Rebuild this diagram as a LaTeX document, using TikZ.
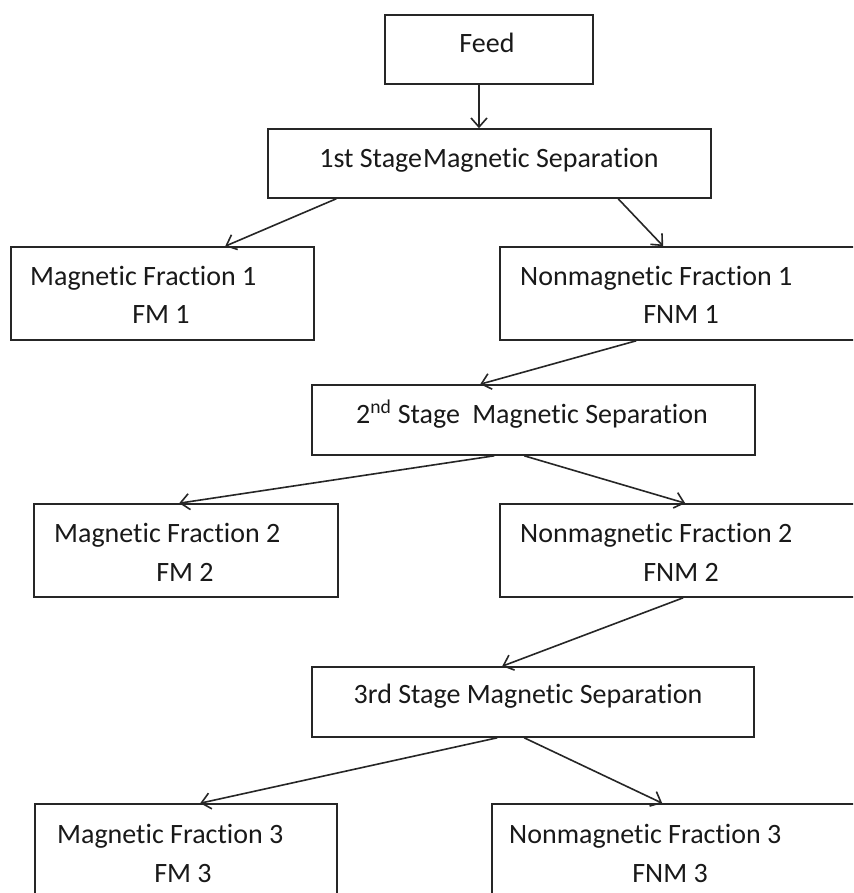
\documentclass[tikz,border=0pt]{standalone}
\usepackage{fontspec}
\setmainfont{Carlito}[Ligatures={NoCommon,NoRare,NoContextual}]
\usetikzlibrary{arrows.meta}
\begin{document}
\begin{tikzpicture}[x=1pt,y=-1pt,
  box/.style={draw=black!85, line width=1.6pt, rectangle, inner sep=0pt},
  txt/.style={inner sep=0pt, font=\fontsize{28}{30}\selectfont, text=black!90},
  arr/.style={draw=black!85, line width=1.6pt, -{Straight Barb[length=9pt,width=16pt,line width=1.6pt]}}]
\useasboundingbox (0,0) rectangle (853,893);
\clip (0,0) rectangle (853,893);
\fill[white] (0,0) rectangle (853,893);
% boxes
\node[box, minimum width=208pt, minimum height=69pt] (feed) at (489,49.5) {};
\node[box, minimum width=443pt, minimum height=69pt] (s1) at (489.5,163.5) {};
\node[box, minimum width=303pt, minimum height=93pt] (m1) at (162.5,293.5) {};
\node[box, minimum width=370pt, minimum height=93pt] (n1) at (685,293.5) {};
\node[box, minimum width=443pt, minimum height=70pt] (s2) at (533.5,420) {};
\node[box, minimum width=304pt, minimum height=93pt] (m2) at (186,550.5) {};
\node[box, minimum width=370pt, minimum height=93pt] (n2) at (685,550.5) {};
\node[box, minimum width=442pt, minimum height=70pt] (s3) at (533,702) {};
\node[box, minimum width=302pt, minimum height=110pt] (m3) at (186,859) {};
\node[box, minimum width=378pt, minimum height=110pt] (n3) at (681,859) {};
% texts
\node[txt, anchor=base] (tfeed) at (487,53) {Feed};
\node[txt, anchor=base] (ts1) at (489,168) {1st Stage\hspace{1pt}Magnetic Separation};
\node[txt, anchor=base west] (tm1a) at (30,285) {Magnetic Fraction 1};
\node[txt, anchor=base] (tm1b) at (161,323) {FM 1};
\node[txt, anchor=base west] (tn1a) at (520,285) {Nonmagnetic Fraction 1};
\node[txt, anchor=base] (tn1b) at (681,323) {FNM 1};
\node[txt, anchor=base] (ts2) at (532,423) {2\textsuperscript{nd} Stage\hspace{6pt} Magnetic Separation};
\node[txt, anchor=base west] (tm2a) at (54,542) {Magnetic Fraction 2};
\node[txt, anchor=base] (tm2b) at (185,581) {FM 2};
\node[txt, anchor=base west] (tn2a) at (520,542) {Nonmagnetic Fraction 2};
\node[txt, anchor=base] (tn2b) at (681,581) {FNM 2};
\node[txt, anchor=base] (ts3) at (528,703) {3rd Stage Magnetic Separation};
\node[txt, anchor=base west] (tm3a) at (57,843) {Magnetic Fraction 3};
\node[txt, anchor=base] (tm3b) at (183,882) {FM 3};
\node[txt, anchor=base west] (tn3a) at (509,843) {Nonmagnetic Fraction 3};
\node[txt, anchor=base] (tn3b) at (670,882) {FNM 3};
% arrows
\draw[arr] ([xshift=-10pt]feed.south) -- ([xshift=-10.5pt]s1.north);
\draw[arr] ([xshift=69pt]s1.south west) -- ([xshift=215pt]m1.north west);
\draw[arr] ([xshift=351pt]s1.south west) -- ([xshift=164pt]n1.north west);
\draw[arr] ([xshift=137pt]n1.south west) -- ([xshift=169pt]s2.north west);
\draw[arr] ([xshift=183pt]s2.south west) -- ([xshift=146pt]m2.north west);
\draw[arr] ([xshift=213pt]s2.south west) -- ([xshift=186pt]n2.north west);
\draw[arr] ([xshift=184pt]n2.south west) -- ([xshift=191pt]s3.north west);
\draw[arr] ([xshift=186pt]s3.south west) -- ([xshift=166pt]m3.north west);
\draw[arr] ([xshift=213pt]s3.south west) -- ([xshift=171pt]n3.north west);
\end{tikzpicture}
\end{document}
